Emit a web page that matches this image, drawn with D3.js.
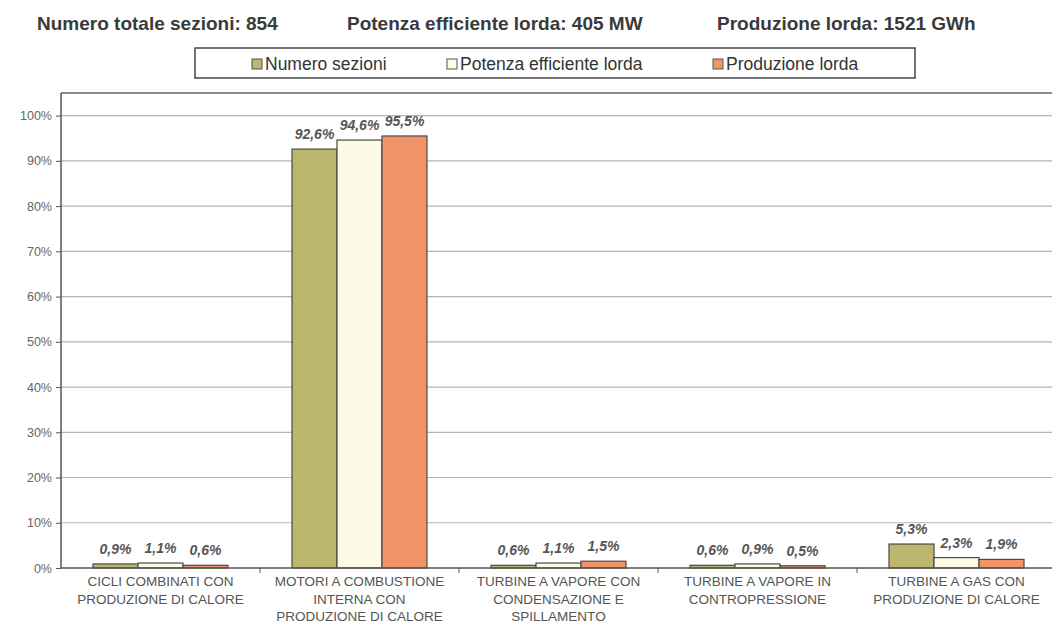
<!DOCTYPE html>
<html><head><meta charset="utf-8">
<script src="https://cdn.jsdelivr.net/npm/d3@7"></script>
<style>
html,body{margin:0;padding:0;background:#fff;}
svg{display:block;font-family:"Liberation Sans",Arial,sans-serif;}
</style></head>
<body><svg id="c" width="1052" height="627"></svg>
<script>
const categories = [
  ["CICLI COMBINATI CON", "PRODUZIONE DI CALORE"],
  ["MOTORI A COMBUSTIONE", "INTERNA CON", "PRODUZIONE DI CALORE"],
  ["TURBINE A VAPORE CON", "CONDENSAZIONE E", "SPILLAMENTO"],
  ["TURBINE A VAPORE IN", "CONTROPRESSIONE"],
  ["TURBINE A GAS CON", "PRODUZIONE DI CALORE"]
];
const seriesNames = ["Numero sezioni", "Potenza efficiente lorda", "Produzione lorda"];
const numeroSezioni = [0.9, 92.6, 0.6, 0.6, 5.3];
const potenzaEfficiente = [1.1, 94.6, 1.1, 0.9, 2.3];
const produzioneLorda = [0.6, 95.5, 1.5, 0.5, 1.9];
const yTicks = [0, 10, 20, 30, 40, 50, 60, 70, 80, 90, 100];
const headers = ["Numero totale sezioni: 854", "Potenza efficiente lorda: 405 MW", "Produzione lorda: 1521 GWh"];

const colors = ["#bcb66e", "#fdfbe6", "#f1946a"];
const series = [numeroSezioni, potenzaEfficiente, produzioneLorda];

const svg = d3.select("#c");
const pLeft = 61, pTop = 93, pBottom = 568, pRight = 1056;

const x0 = d3.scaleBand().domain(d3.range(categories.length)).range([pLeft, pRight]).padding(0);
const x1 = d3.scaleBand().domain(d3.range(series.length)).range([32, x0.bandwidth() - 32]).padding(0);
const y = d3.scaleLinear().domain([0, 105]).range([pBottom, pTop]);

// headers
const headerX = [37, 347, 717];
svg.selectAll("text.hdr").data(headers).join("text")
  .attr("class", "hdr")
  .attr("x", (d, i) => headerX[i]).attr("y", 30)
  .attr("font-size", 19).attr("font-weight", "bold").attr("fill", "#3a3a3a")
  .text(d => d);

// legend
const lg = svg.append("g");
lg.append("rect").attr("x", 195).attr("y", 48).attr("width", 720).attr("height", 30)
  .attr("fill", "#fff").attr("stroke", "#444").attr("stroke-width", 1.5);
const legendX = [252, 447, 713];
const li = lg.selectAll("g.li").data(seriesNames).join("g").attr("class", "li")
  .attr("transform", (d, i) => `translate(${legendX[i]},64)`);
li.append("rect").attr("x", 0).attr("y", -5).attr("width", 10).attr("height", 10)
  .attr("fill", (d, i) => colors[i]).attr("stroke", "#555").attr("stroke-width", 1);
li.append("text").attr("x", 13).attr("y", 6).attr("font-size", 17.5).attr("fill", "#333").text(d => d);

// gridlines
svg.append("g").selectAll("line").data(yTicks.filter(t => t > 0)).join("line")
  .attr("x1", pLeft).attr("x2", 1052).attr("y1", d => y(d)).attr("y2", d => y(d))
  .attr("stroke", "#b4b4b4").attr("stroke-width", 1.2);
// top frame
svg.append("line").attr("x1", pLeft).attr("x2", 1052).attr("y1", pTop).attr("y2", pTop)
  .attr("stroke", "#666").attr("stroke-width", 1.5);

// y axis
const yAxis = svg.append("g").attr("transform", `translate(${pLeft},0)`)
  .call(d3.axisLeft(y).tickValues(yTicks).tickFormat(d => d + "%").tickSize(5).tickPadding(4));
yAxis.select(".domain").remove();
yAxis.append("line").attr("x1", 0).attr("x2", 0).attr("y1", pTop).attr("y2", pBottom).attr("stroke", "#555").attr("stroke-width", 1.5);
yAxis.selectAll(".tick line").attr("stroke", "#555");
yAxis.selectAll(".tick text").attr("font-size", 12.5).attr("fill", "#666").attr("font-family", "Liberation Sans, Arial, sans-serif");

// bars
const groups = svg.append("g").selectAll("g").data(categories).join("g")
  .attr("transform", (d, i) => `translate(${x0(i)},0)`);
groups.selectAll("rect").data((d, i) => series.map((s, j) => ({j, v: s[i]}))).join("rect")
  .attr("x", d => x1(d.j)).attr("width", x1.bandwidth())
  .attr("y", d => y(d.v)).attr("height", d => y(0) - y(d.v))
  .attr("fill", d => colors[d.j]).attr("stroke", "#4a4a4a").attr("stroke-width", 1.2);
groups.selectAll("text").data((d, i) => series.map((s, j) => ({j, v: s[i]}))).join("text")
  .attr("x", d => x1(d.j) + x1.bandwidth() / 2).attr("y", d => y(d.v) - 10)
  .attr("text-anchor", "middle").attr("font-size", 14).attr("font-weight", "bold").attr("font-style", "italic")
  .attr("fill", "#555").text(d => d3.format(".1f")(d.v).replace(".", ",") + "%");

// x axis
svg.append("line").attr("x1", pLeft).attr("x2", 1052).attr("y1", pBottom).attr("y2", pBottom)
  .attr("stroke", "#555").attr("stroke-width", 1.5);
const xAxis = svg.append("g").attr("transform", `translate(0,${pBottom})`);
xAxis.selectAll("line").data(d3.range(1, categories.length)).join("line")
  .attr("x1", i => x0(i)).attr("x2", i => x0(i)).attr("y1", 0).attr("y2", 5).attr("stroke", "#555");
const cl = xAxis.selectAll("text").data(categories).join("text")
  .attr("text-anchor", "middle").attr("font-size", 13.5).attr("fill", "#555");
cl.each(function(d, i) {
  const t = d3.select(this);
  d.forEach((line, k) => t.append("tspan").attr("x", x0(i) + x0.bandwidth() / 2).attr("y", 18 + k * 17.5).text(line));
});
</script></body></html>
